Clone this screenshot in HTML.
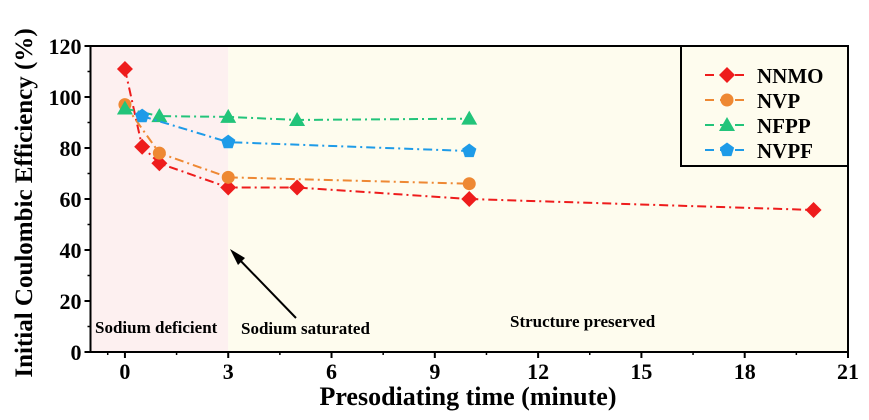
<!DOCTYPE html>
<html><head><meta charset="utf-8"><style>
body{margin:0;background:#fff}
svg{display:block;font-family:"Liberation Serif",serif}
</style></head><body>
<svg id="chart" width="869" height="420">
<g id="g"></g>
</svg>
<script>
const seriesNames=["NNMO","NVP","NFPP","NVPF"];
const nnmoX=[0,0.5,1,3,5,10,20], nnmoY=[111,80.5,74,64.5,64.5,60,55.7];
const nvpX=[0,1,3,10], nvpY=[97,78,68.5,66];
const nfppX=[0,1,3,5,10], nfppY=[95.5,92.5,92.2,91,91.5];
const nvpfX=[0.5,3,10], nvpfY=[92.5,82.3,78.8];
const xTicks=[0,3,6,9,12,15,18,21];
const yTicks=[0,20,40,60,80,100,120];
const X0=90.5,X1=848,Y0=352,Y1=46,XMIN=-1,XMAX=21,YMIN=0,YMAX=120;
const sx=v=>X0+(v-XMIN)/(XMAX-XMIN)*(X1-X0);
const sy=v=>Y0-(v-YMIN)/(YMAX-YMIN)*(Y0-Y1);
const NS="http://www.w3.org/2000/svg",g=document.getElementById('g');
function el(t,a,p){const e=document.createElementNS(NS,t);for(const k in a)e.setAttribute(k,a[k]);(p||g).appendChild(e);return e;}
let e;
e=el('rect',{x:X0,y:Y1,width:sx(3)-X0,height:Y0-Y1,fill:'#fdf0f0'});


e=el('rect',{x:sx(3),y:Y1,width:X1-sx(3),height:Y0-Y1,fill:'#fefcee'});


e=el('rect',{x:X0,y:Y1,width:X1-X0,height:Y0-Y1,fill:'none',stroke:'#000','stroke-width':2});


xTicks.forEach(t=>{
 el('line',{x1:sx(t),x2:sx(t),y1:Y0,y2:Y0+6,stroke:'#000','stroke-width':2});
 if(t<21) el('line',{x1:sx(t+1.5),x2:sx(t+1.5),y1:Y0,y2:Y0+3,stroke:'#000','stroke-width':1.5});
 e=el('text',{x:sx(t),y:Y0+27,'text-anchor':'middle','font-size':22,'font-weight':'bold'});e.textContent=t;
 
 
});
el('line',{x1:sx(-0.5),x2:sx(-0.5),y1:Y0,y2:Y0+3,stroke:'#000','stroke-width':1.5});
yTicks.forEach(t=>{
 el('line',{x1:X0-6,x2:X0,y1:sy(t),y2:sy(t),stroke:'#000','stroke-width':2});
 if(t<120) el('line',{x1:X0-3,x2:X0,y1:sy(t+10),y2:sy(t+10),stroke:'#000','stroke-width':1.5});
 e=el('text',{x:X0-9,y:sy(t)+8,'text-anchor':'end','font-size':22,'font-weight':'bold'});e.textContent=t;
 
 
});
e=el('text',{x:468,y:405,'text-anchor':'middle','font-size':26,'font-weight':'bold'});e.textContent='Presodiating time (minute)';


e=el('text',{x:0,y:0,'text-anchor':'middle','font-size':25,'font-weight':'bold',transform:'translate(32,203) rotate(-90)'});e.textContent='Initial Coulombic Efficiency (%)';


[['Sodium deficient',95,333],['Sodium saturated',241,334],['Structure preserved',510,327]].forEach(a=>{
 e=el('text',{x:a[1],y:a[2],'font-size':17,'font-weight':'bold'});e.textContent=a[0];
 
 
});
el('line',{x1:296,y1:318,x2:236,y2:256,stroke:'#000','stroke-width':2});
el('polygon',{points:'230,249 245,258 238,265',fill:'#000'});
const colors=['#ee1c1c','#ee8833','#22c47a','#1e9be8'];
function marker(type,x,y,c,parent){
 if(type==0) return el('polygon',{points:`${x},${y-8} ${x+8},${y} ${x},${y+8} ${x-8},${y}`,fill:c},parent);
 if(type==1) return el('circle',{cx:x,cy:y,r:6.5,fill:c},parent);
 if(type==2) return el('polygon',{points:`${x},${y-8} ${x+8},${y+6} ${x-8},${y+6}`,fill:c},parent);
 const p=[];for(let i=0;i<5;i++){const a=-Math.PI/2+i*2*Math.PI/5;p.push((x+7.5*Math.cos(a))+','+(y+7.5*Math.sin(a)));}
 return el('polygon',{points:p.join(' '),fill:c},parent);
}
const all=[[nnmoX,nnmoY],[nvpX,nvpY],[nfppX,nfppY],[nvpfX,nvpfY]];
all.forEach((s,i)=>{
 const gs=el('g',{});
 
 
 el('polyline',{points:s[0].map((x,j)=>sx(x)+','+sy(s[1][j])).join(' '),fill:'none',stroke:colors[i],'stroke-width':2,'stroke-dasharray':'9,4,2,4'},gs);
 s[0].forEach((x,j)=>{const m=marker(i,sx(x),sy(s[1][j]),colors[i],gs);
  
  });
});
const lg=el('g',{});


el('rect',{x:681,y:46,width:167,height:120,fill:'#fefcee',stroke:'#000','stroke-width':2},lg);
seriesNames.forEach((n,i)=>{
 const y=75+i*25;
 const en=el('g',{},lg);
 
 
 el('line',{x1:705,x2:747,y1:y,y2:y,stroke:colors[i],'stroke-width':2,'stroke-dasharray':'9,6'},en);
 marker(i,727,y,colors[i],en);
 const t=el('text',{x:757,y:y+8,'font-size':21,'font-weight':'bold'},en);t.textContent=n;
});
</script>
</body></html>
